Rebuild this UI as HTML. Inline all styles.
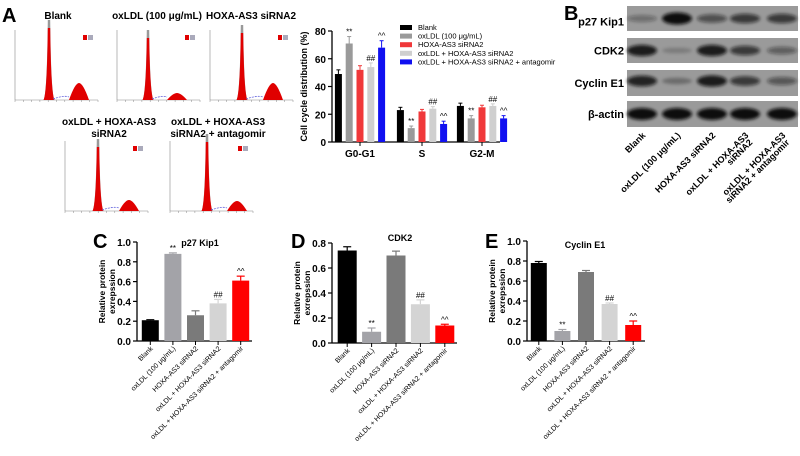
<!DOCTYPE html>
<html><head><meta charset="utf-8"><style>
body{margin:0;background:#fff;}
svg{display:block;font-family:"Liberation Sans",Arial,sans-serif;}
</style></head><body>
<svg id="fig" width="800" height="456" viewBox="0 0 800 456" xmlns="http://www.w3.org/2000/svg">
<defs><filter id="blur" x="-20%" y="-50%" width="140%" height="200%"><feGaussianBlur stdDeviation="1.6"/></filter></defs>
<text x="2" y="22" font-size="20" font-weight="bold">A</text>
<text x="564" y="20" font-size="20" font-weight="bold">B</text>
<text x="93" y="248" font-size="20" font-weight="bold">C</text>
<text x="291" y="248" font-size="20" font-weight="bold">D</text>
<text x="485" y="248" font-size="20" font-weight="bold">E</text>
<g id="hist"></g>
<g id="cc"></g>
<g id="blot"></g>
<g id="pc"></g>
<g id="pd"></g>
<g id="pe"></g>
</svg>
<script>
const NS="http://www.w3.org/2000/svg";
function mk(p,t,a,txt){const e=document.createElementNS(NS,t);for(const k in a)e.setAttribute(k,a[k]);if(txt!==undefined)e.textContent=txt;p.appendChild(e);return e;}

// ---- cell cycle data ----
const ccPhases=["G0-G1","S","G2-M"];
const ccSeries=["Blank","oxLDL (100 \u03bcg/mL)","HOXA-AS3 siRNA2","oxLDL + HOXA-AS3 siRNA2","oxLDL + HOXA-AS3 siRNA2 + antagomir"];
const ccBlank=[49,23,26];
const ccOx=[71,10,17];
const ccSi=[52,22,25];
const ccOxSi=[54,24,26];
const ccAnt=[68,13,17];
const ccErr=[[3,2,2],[5,1.5,2],[3,1.5,1.5],[3,1.5,1.5],[5,2,2]];
const ccMarks=[["","",""],["**","**","**"],["","",""],["##","##","##"],["^^","^^","^^"]];
const ccTicks=[0,20,40,60,80];
const ccColors=["#000","#9a9a9a","#f0383a","#cfcfcf","#1010f0"];

// ---- protein data ----
const groups=["Blank","oxLDL (100 \u03bcg/mL)","HOXA-AS3 siRNA2","oxLDL + HOXA-AS3 siRNA2","oxLDL + HOXA-AS3 siRNA2 + antagomir"];
const p27Vals=[0.21,0.88,0.26,0.38,0.61];
const p27Err=[0.005,0.01,0.045,0.04,0.045];
const cdk2Vals=[0.74,0.09,0.70,0.31,0.14];
const cdk2Err=[0.03,0.03,0.035,0.035,0.01];
const cycVals=[0.78,0.10,0.69,0.37,0.16];
const cycErr=[0.015,0.015,0.015,0.01,0.04];
const sigMarks=["","**","","##","^^"];
const ticks1=[0,0.2,0.4,0.6,0.8,1.0];
const ticks08=[0,0.2,0.4,0.6,0.8];
const barColors=["#000","#a3a3a8","#7a7a7a","#d4d4d4","#ff0000"];

// ---- blot intensities ----
const blotRows=["p27 Kip1","CDK2","Cyclin E1","\u03b2-actin"];
const blotInt=[[0.35,1,0.55,0.7,0.7],[0.9,0.2,0.9,0.7,0.45],[0.85,0.3,0.9,0.7,0.5],[1,1,1,1,1]];

// ---- histograms ----
const H=document.getElementById('hist');
const hists=[
 {t:["Blank"],tx:58,ty:19,ax:15,by:100,w:83,g1:49,g1t:28,g2:79,g2t:83},
 {t:["oxLDL (100 \u03bcg/mL)"],tx:157,ty:19,ax:117,by:100,w:83,g1:148,g1t:38,g2:177,g2t:93},
 {t:["HOXA-AS3 siRNA2"],tx:251,ty:19,ax:210,by:100,w:83,g1:242,g1t:33,g2:273,g2t:83},
 {t:["oxLDL + HOXA-AS3","siRNA2"],tx:109,ty:125,ax:65,by:211,w:83,g1:98,g1t:147,g2:129,g2t:200},
 {t:["oxLDL + HOXA-AS3","siRNA2 + antagomir"],tx:218,ty:125,ax:170,by:211,w:83,g1:207,g1t:142,g2:237,g2t:201}
];
hists.forEach((h,i)=>{
 const g=mk(H,'g',{});
 
 
 h.t.forEach((s,j)=>{mk(g,'text',{x:h.tx,y:h.ty+j*12,'font-size':10,'font-weight':'bold','text-anchor':'middle'},s);});
 mk(g,'line',{x1:h.ax,y1:h.by,x2:h.ax,y2:h.by-70,stroke:'#888','stroke-width':0.6});
 mk(g,'line',{x1:h.ax,y1:h.by,x2:h.ax+h.w,y2:h.by,stroke:'#888','stroke-width':0.6});
 for(let k=0;k<=10;k++)mk(g,'line',{x1:h.ax+k*h.w/10,y1:h.by,x2:h.ax+k*h.w/10,y2:h.by+2,stroke:'#888','stroke-width':0.5});
 const peak=(c,top,hw)=>`M${c-hw},${h.by} Q${c-2},${h.by-6} ${c-1.2},${top} L${c+1.2},${top} Q${c+2},${h.by-6} ${c+hw},${h.by} Z`;
 mk(g,'path',{d:peak(h.g1,h.g1t-8,5.5),fill:'#999'});
 mk(g,'path',{d:peak(h.g1,h.g1t,5.5),fill:'#e00000'});
 const g2w=10;
 mk(g,'path',{d:`M${h.g2-g2w},${h.by} Q${h.g2-4},${h.g2t} ${h.g2},${h.g2t} Q${h.g2+4},${h.g2t} ${h.g2+g2w},${h.by} Z`,fill:'#e00000'});
 mk(g,'path',{d:`M${h.g1+4},${h.by-1} Q${(h.g1+h.g2)/2},${h.by-5} ${h.g2-g2w},${h.by-3}`,fill:'none',stroke:'#6666dd','stroke-width':0.8,'stroke-dasharray':'2,1'});
 mk(g,'rect',{x:h.ax+68,y:h.by-65,width:4,height:5,fill:'#e00000'});
 mk(g,'rect',{x:h.ax+73,y:h.by-65,width:5,height:5,fill:'#aab'});
});

// ---- cell cycle chart ----
(function(){
 const C=document.getElementById('cc');
 const x0=332,x1=500,y0=142,yTop=31;
 const ys=v=>y0-(v/80)*(y0-yTop);
 const gx=[360,422,482];
 const series=[ccBlank,ccOx,ccSi,ccOxSi,ccAnt];
 mk(C,'line',{x1:x0,y1:y0,x2:x0,y2:yTop,stroke:'#000','stroke-width':1.3});
 mk(C,'line',{x1:x0,y1:y0,x2:x1,y2:y0,stroke:'#000','stroke-width':1.3});
 ccTicks.forEach(t=>{mk(C,'line',{x1:x0-4,y1:ys(t),x2:x0,y2:ys(t),stroke:'#000','stroke-width':1.2});
  mk(C,'text',{x:x0-6,y:ys(t)+4,'font-size':10,'font-weight':'bold','text-anchor':'end'},t);});
 mk(C,'text',{x:0,y:0,'font-size':9,'font-weight':'bold','text-anchor':'middle',transform:`translate(307,${(y0+yTop)/2}) rotate(-90)`},"Cell cycle distribution (%)");
 ccPhases.forEach((p,i)=>{
  mk(C,'line',{x1:gx[i],y1:y0,x2:gx[i],y2:y0+4,stroke:'#000'});
  mk(C,'text',{x:gx[i],y:y0+15,'font-size':10,'font-weight':'bold','text-anchor':'middle'},p);
  series.forEach((s,j)=>{
   const cx=gx[i]+(j-2)*10.8, v=s[i], e=ccErr[j][i];
   const r=mk(C,'rect',{x:cx-3.5,y:ys(v),width:7,height:y0-ys(v),fill:ccColors[j]});
   
   
   mk(C,'line',{x1:cx,y1:ys(v),x2:cx,y2:ys(v+e),stroke:ccColors[j],'stroke-width':1});
   mk(C,'line',{x1:cx-2,y1:ys(v+e),x2:cx+2,y2:ys(v+e),stroke:ccColors[j],'stroke-width':1});
   if(ccMarks[j][i])mk(C,'text',{x:cx,y:ys(v+e)-2,'font-size':8,'text-anchor':'middle'},ccMarks[j][i]);
  });
 });
 ccSeries.forEach((s,j)=>{
  const y=28+j*8.6;
  const r=mk(C,'rect',{x:400,y:y-3,width:12,height:5,fill:ccColors[j]});
  
  
  const t=mk(C,'text',{x:418,y:y+2,'font-size':7.5},s);
  
  
 });
})();

// ---- western blot ----
(function(){
 const B=document.getElementById('blot');
 const rows=[[6,31],[38,63],[70,96],[101,127]];
 const lanes=[642,677,712,745,782];
 rows.forEach((r,i)=>{
  mk(B,'rect',{x:627,y:r[0],width:171,height:r[1]-r[0],fill:'#9a9a9a'});
  mk(B,'text',{x:624,y:(r[0]+r[1])/2+4+(i==0?3:0),'font-size':11,'font-weight':'bold','text-anchor':'end'},blotRows[i]);
  lanes.forEach((lx,j)=>{
   const a=blotInt[i][j];
   const e=mk(B,'ellipse',{cx:lx,cy:(r[0]+r[1])/2+(i==2?-2:0),rx:15,ry:2+4*a,fill:'#111','fill-opacity':a,filter:'url(#blur)'});
   
   
  });
 });
 const lab=[["Blank"],["oxLDL (100 \u03bcg/mL)"],["HOXA-AS3 siRNA2"],["oxLDL + HOXA-AS3","siRNA2"],["oxLDL + HOXA-AS3","siRNA2 + antagomir"]];
 lab.forEach((l,j)=>{
  l.forEach((s,k)=>mk(B,'text',{x:0,y:0,'font-size':9,'font-weight':'bold','text-anchor':'end',transform:`translate(${lanes[j]+4+k*4},${136+k*7}) rotate(-45)`},s));
 });
})();

// ---- protein bar charts ----
function barChart(id,title,vals,errs,ticks,ymax,x0,x1,y0,yTop,bx0,bw,tx,ty){
 const G=document.getElementById(id);
 const ys=v=>y0-(v/ymax)*(y0-yTop);
 mk(G,'line',{x1:x0,y1:y0,x2:x0,y2:yTop,stroke:'#000','stroke-width':1.3});
 mk(G,'line',{x1:x0,y1:y0,x2:x1,y2:y0,stroke:'#000','stroke-width':1.3});
 ticks.forEach(t=>{mk(G,'line',{x1:x0-4,y1:ys(t),x2:x0,y2:ys(t),stroke:'#000','stroke-width':1.2});
  mk(G,'text',{x:x0-6,y:ys(t)+4,'font-size':10,'font-weight':'bold','text-anchor':'end'},t.toFixed(1));});
 mk(G,'text',{x:0,y:0,'font-size':8.5,'font-weight':'bold','text-anchor':'middle',transform:`translate(${x0-32},${(y0+yTop)/2}) rotate(-90)`},"Relative protein");
 mk(G,'text',{x:0,y:0,'font-size':8.5,'font-weight':'bold','text-anchor':'middle',transform:`translate(${x0-22},${(y0+yTop)/2}) rotate(-90)`},"exrepssion");
 mk(G,'text',{x:tx,y:ty,'font-size':9,'font-weight':'bold','text-anchor':'middle'},title);
 const step=(x1-bx0)/5;
 vals.forEach((v,j)=>{
  const cx=bx0+step*(j+0.5);
  const r=mk(G,'rect',{x:cx-bw/2,y:ys(v),width:bw,height:y0-ys(v),fill:barColors[j]});
  
  
  const e=errs[j];
  mk(G,'line',{x1:cx,y1:ys(v),x2:cx,y2:ys(v+e),stroke:barColors[j],'stroke-width':1.2});
  mk(G,'line',{x1:cx-4,y1:ys(v+e),x2:cx+4,y2:ys(v+e),stroke:barColors[j],'stroke-width':1.2});
  if(sigMarks[j])mk(G,'text',{x:cx,y:ys(v+e)-2,'font-size':8,'text-anchor':'middle'},sigMarks[j]);
  mk(G,'line',{x1:cx,y1:y0,x2:cx,y2:y0+4,stroke:'#000'});
  mk(G,'text',{x:0,y:0,'font-size':7,'text-anchor':'end',transform:`translate(${cx+3},${y0+8}) rotate(-45)`},groups[j]);
 });
}
barChart('pc','p27 Kip1',p27Vals,p27Err,ticks1,1.0,137,252,341,242,139,17,200,246);
barChart('pd','CDK2',cdk2Vals,cdk2Err,ticks08,0.8,332,457,343,243,335,19,400,241);
barChart('pe','Cyclin E1',cycVals,cycErr,ticks1,1.0,527,645,341,241,527,16,585,248);
</script>
</body></html>
